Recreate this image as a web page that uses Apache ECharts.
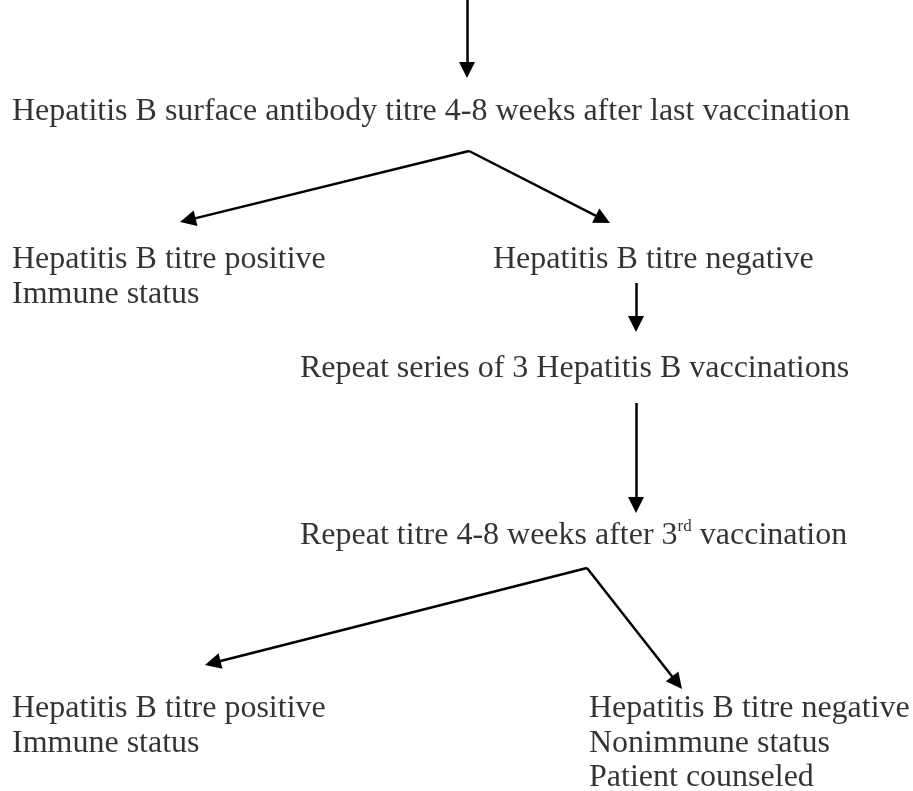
<!DOCTYPE html>
<html>
<head>
<meta charset="utf-8">
<script src="https://cdn.jsdelivr.net/npm/echarts@6/dist/echarts.min.js"></script>
<style>
  html, body { margin: 0; padding: 0; background: #fff; }
  #showChart { width: 913px; height: 791px; }
</style>
</head>
<body>
<div id="showChart"></div>
<script>
// flowchart text, one entry per line of text
var textLines = [
    'Hepatitis B surface antibody titre 4-8 weeks after last vaccination',
    'Hepatitis B titre positive',
    'Immune status',
    'Hepatitis B titre negative',
    'Repeat series of 3 Hepatitis B vaccinations',
    '{n|Repeat titre 4-8 weeks after 3}{s|rd}{n| vaccination}',
    'Hepatitis B titre positive',
    'Immune status',
    'Hepatitis B titre negative',
    'Nonimmune status',
    'Patient counseled'
];
// left edge / middle of each line, in page units
var textPos = [
    [12, 112],
    [12, 260], [12, 295],
    [493, 260],
    [300, 369],
    [300, 536],
    [12, 709], [12, 744],
    [589, 709], [589, 744], [589, 778]
];
// arrows: from -> tip
var arrowFrom = [[467, 0], [469, 151], [469, 151], [636, 283], [636, 403], [587, 568], [587, 568]];
var arrowTo = [[467, 78], [180, 222], [610, 223], [636, 332], [636, 513], [205, 665], [682, 689]];

var headLen = 16;

var textData = textLines.map(function (t, i) {
    return { value: textPos[i], name: t };
});
// the end symbol is centred on the end point, so stop the line half a head short of the tip
var arrowData = arrowFrom.map(function (p, i) {
    var q = arrowTo[i];
    var dx = q[0] - p[0], dy = q[1] - p[1];
    var len = Math.sqrt(dx * dx + dy * dy);
    var end = [q[0] - dx / len * headLen / 2, q[1] - dy / len * headLen / 2];
    return { coords: [p, end] };
});

var option = {
    backgroundColor: '#fff',
    animation: false,
    grid: { left: 0, right: 0, top: 0, bottom: 0 },
    xAxis: { type: 'value', min: 0, max: 913, show: false },
    yAxis: { type: 'value', min: 0, max: 791, inverse: true, show: false },
    series: [{
        type: 'lines',
        coordinateSystem: 'cartesian2d',
        symbol: ['none', 'triangle'],
        symbolSize: [15, headLen],
        lineStyle: { color: '#000', width: 2.5, opacity: 1, curveness: 0 },
        itemStyle: { color: '#000' },
        data: arrowData
    }, {
        type: 'scatter',
        symbolSize: 0,
        silent: true,
        label: {
            show: true,
            position: 'right',
            distance: 0,
            color: '#000',
            fontFamily: 'Liberation Serif',
            fontSize: 32,
            formatter: function (p) { return p.name; },
            rich: {
                n: { fontFamily: 'Liberation Serif', fontSize: 32, color: '#000', lineHeight: 36 },
                s: { fontFamily: 'Liberation Serif', fontSize: 17, color: '#000', verticalAlign: 'top', lineHeight: 32 }
            }
        },
        data: textData
    }]
};

var chartOutChar = echarts.init(document.getElementById('showChart'));
chartOutChar.setOption(option);
</script>
</body>
</html>
